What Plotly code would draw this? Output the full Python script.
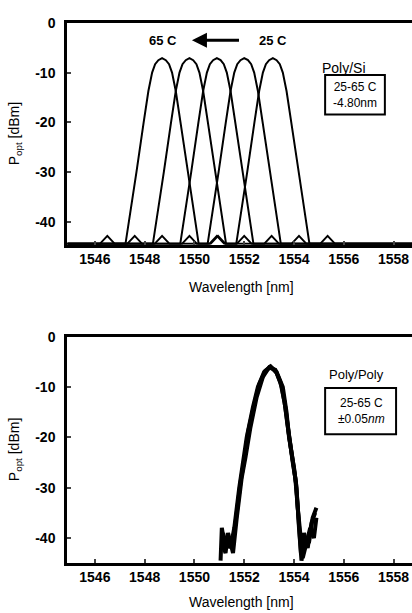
import plotly.graph_objects as go

# ---------------- data ----------------
# top panel: Poly/Si, five spectra shifting with temperature
y_top = [-44.4, -44.4, -42.8, -44.4, -44.4, -40, -30, -20, -13.7, -10, -8.3, -7.5, -7.1,
         -7.5, -8.3, -10, -13.7, -20, -30, -40, -44.4, -44.4, -42.8, -44.4, -44.4]
x_65C = [1544.9, 1546.2, 1546.5, 1546.8, 1547.23, 1547.37, 1547.67, 1547.96, 1548.15, 1548.3, 1548.42, 1548.55, 1548.7,
         1548.85, 1548.98, 1549.1, 1549.25, 1549.44, 1549.73, 1550.03, 1550.17, 1550.6, 1550.9, 1551.2, 1558.8]
x_55C = [1544.9, 1547.3, 1547.6, 1547.9, 1548.33, 1548.47, 1548.77, 1549.06, 1549.25, 1549.4, 1549.52, 1549.65, 1549.8,
         1549.95, 1550.08, 1550.2, 1550.35, 1550.54, 1550.83, 1551.13, 1551.27, 1551.7, 1552.0, 1552.3, 1558.8]
x_45C = [1544.9, 1548.4, 1548.7, 1549.0, 1549.43, 1549.57, 1549.87, 1550.16, 1550.35, 1550.5, 1550.62, 1550.75, 1550.9,
         1551.05, 1551.18, 1551.3, 1551.45, 1551.64, 1551.93, 1552.23, 1552.37, 1552.8, 1553.1, 1553.4, 1558.8]
x_35C = [1544.9, 1549.5, 1549.8, 1550.1, 1550.53, 1550.67, 1550.97, 1551.26, 1551.45, 1551.6, 1551.72, 1551.85, 1552.0,
         1552.15, 1552.28, 1552.4, 1552.55, 1552.74, 1553.03, 1553.33, 1553.47, 1553.9, 1554.2, 1554.5, 1558.8]
x_25C = [1544.9, 1550.65, 1550.95, 1551.25, 1551.68, 1551.82, 1552.12, 1552.41, 1552.6, 1552.75, 1552.87, 1553.0, 1553.15,
         1553.3, 1553.43, 1553.55, 1553.7, 1553.89, 1554.18, 1554.48, 1554.62, 1555.05, 1555.35, 1555.65, 1558.8]
top_series = [x_65C, x_55C, x_45C, x_35C, x_25C]

# bottom panel: Poly/Poly, overlapping spectra 25-65 C
x_pp_a = [1551.05, 1551.1, 1551.2, 1551.3, 1551.45, 1551.6, 1551.8, 1552.0, 1552.1, 1552.35, 1552.55, 1552.8, 1553.05,
          1553.3, 1553.55, 1553.7, 1553.8, 1554.0, 1554.1, 1554.2, 1554.3, 1554.45, 1554.6, 1554.75, 1554.9]
y_pp_a = [-44.5, -38, -41, -40, -42, -38, -30, -24, -20, -14, -10, -7, -5.9,
          -7, -10, -15, -20, -26, -30, -38, -44.5, -40, -41, -36, -34]
x_pp_b = [1551.1, 1551.25, 1551.35, 1551.5, 1551.65, 1551.85, 1552.05, 1552.15, 1552.4, 1552.6, 1552.85, 1553.07,
          1553.3, 1553.5, 1553.65, 1553.78, 1553.95, 1554.08, 1554.18, 1554.28, 1554.4, 1554.55, 1554.7, 1554.85]
y_pp_b = [-41, -43, -39, -42, -37, -29, -23, -19, -13.5, -9.5, -6.8, -6.0,
          -7.2, -9.8, -14, -19, -25, -29, -36, -43, -39, -42, -37, -35]
x_pp_c = [1551.15, 1551.3, 1551.4, 1551.55, 1551.7, 1551.9, 1552.05, 1552.25, 1552.5, 1552.75, 1553.0, 1553.25,
          1553.45, 1553.62, 1553.75, 1553.92, 1554.05, 1554.15, 1554.25, 1554.35, 1554.5, 1554.65, 1554.8, 1554.9]
y_pp_c = [-39, -42, -40, -43, -36, -28, -24, -18, -12, -8, -6.1, -6.6,
          -9, -13, -18, -23, -28, -34, -40, -44, -41, -38, -40, -36]
bottom_series = [(x_pp_a, y_pp_a), (x_pp_b, y_pp_b), (x_pp_c, y_pp_c)]

x_ticks = [1546, 1548, 1550, 1552, 1554, 1556, 1558]
x_tick_text = ["1546", "1548", "1550", "1552", "1554", "1556", "1558"]
y_ticks = [0, -10, -20, -30, -40]
y_tick_text = ["0", "-10", "-20", "-30", "-40"]

# ---------------- figure ----------------
FONT = "Liberation Sans, Arial, sans-serif"
fig = go.Figure()

for xs in top_series:
    fig.add_trace(go.Scatter(x=xs, y=y_top, mode="lines", xaxis="x", yaxis="y",
                             line=dict(color="black", width=2), showlegend=False))
for xs, ys in bottom_series:
    fig.add_trace(go.Scatter(x=xs, y=ys, mode="lines", xaxis="x2", yaxis="y2",
                             line=dict(color="black", width=4), showlegend=False))

xr = [1544.88, 1558.74]
tickfont = dict(family=FONT, size=14, color="black")
common_x = dict(range=xr, tickvals=x_ticks, ticktext=["<b>%s</b>" % t for t in x_tick_text],
                ticks="inside", ticklen=4, tickwidth=1.5,
                showline=True, linewidth=2.5, linecolor="black", mirror=True,
                showgrid=False, zeroline=False, domain=[0.1626, 1.0],
                tickfont=tickfont, ticklabelstandoff=0)
common_y = dict(tickvals=y_ticks, ticktext=["<b>%s</b>" % t for t in y_tick_text],
                ticks="inside", ticklen=4, tickwidth=1.5,
                showline=True, linewidth=2.5, linecolor="black", mirror=False,
                showgrid=False, zeroline=False,
                tickfont=tickfont, ticklabelstandoff=6)

fig.update_layout(
    width=412, height=613,
    margin=dict(l=0, r=0, t=0, b=0),
    paper_bgcolor="white", plot_bgcolor="white",
    xaxis=dict(anchor="y", **common_x),
    yaxis=dict(anchor="x", range=[-44.6, 0], domain=[0.6085, 0.9755], **common_y),
    xaxis2=dict(anchor="y2", **common_x),
    yaxis2=dict(anchor="x2", range=[-44.9, 0], domain=[0.0832, 0.4568], **common_y),
)

ann = []
tfont = dict(family=FONT, size=13, color="black")
title_font = dict(family=FONT, size=14, color="black")
# axis titles
for yc, ty in [(1 - 128 / 613, 1 - 283 / 613), (1 - 448 / 613, 1 - 602 / 613)]:
    ann.append(dict(text="P<sub>opt</sub> [dBm]", textangle=-90, x=15 / 412, y=yc,
                    xref="paper", yref="paper", xanchor="center", yanchor="middle",
                    showarrow=False, font=title_font))
    ann.append(dict(text="Wavelength [nm]", x=242 / 412, y=ty, xref="paper", yref="paper",
                    xanchor="center", yanchor="middle", showarrow=False, font=title_font))
# top panel labels
ann.append(dict(text="<b>65 C</b>", x=1548.75, y=-3.5, xref="x", yref="y", showarrow=False, font=tfont))
ann.append(dict(text="<b>25 C</b>", x=1553.15, y=-3.5, xref="x", yref="y", showarrow=False, font=tfont))
ann.append(dict(text="", x=1549.9, y=-3.5, ax=1551.85, ay=-3.5, xref="x", yref="y", axref="x", ayref="y",
                showarrow=True, arrowhead=2, arrowsize=1, arrowwidth=3, arrowcolor="black"))
ann.append(dict(text="Poly/Si", x=1556.0, y=-9.1, xref="x", yref="y", showarrow=False,
                font=dict(family=FONT, size=14, color="black")))
ann.append(dict(text="25-65 C<br>-4.80nm", x=1556.45, y=-14.5, xref="x", yref="y", showarrow=False,
                font=dict(family=FONT, size=12, color="black")))
# bottom panel labels
ann.append(dict(text="Poly/Poly", x=1556.5, y=-7.6, xref="x2", yref="y2", showarrow=False, font=tfont))
ann.append(dict(text="25-65 C<br>±0.05<i>nm</i>", x=1556.7, y=-14.7, xref="x2", yref="y2", showarrow=False,
                font=dict(family=FONT, size=12, color="black")))
fig.update_layout(annotations=ann)

fig.add_shape(type="rect", x0=1555.25, x1=1557.65, y0=-10.5, y1=-18.4, xref="x", yref="y",
              line=dict(color="black", width=2))
fig.add_shape(type="rect", x0=1555.25, x1=1558.1, y0=-10.2, y1=-19.4, xref="x2", yref="y2",
              line=dict(color="black", width=2))

fig.write_html("out.html")
